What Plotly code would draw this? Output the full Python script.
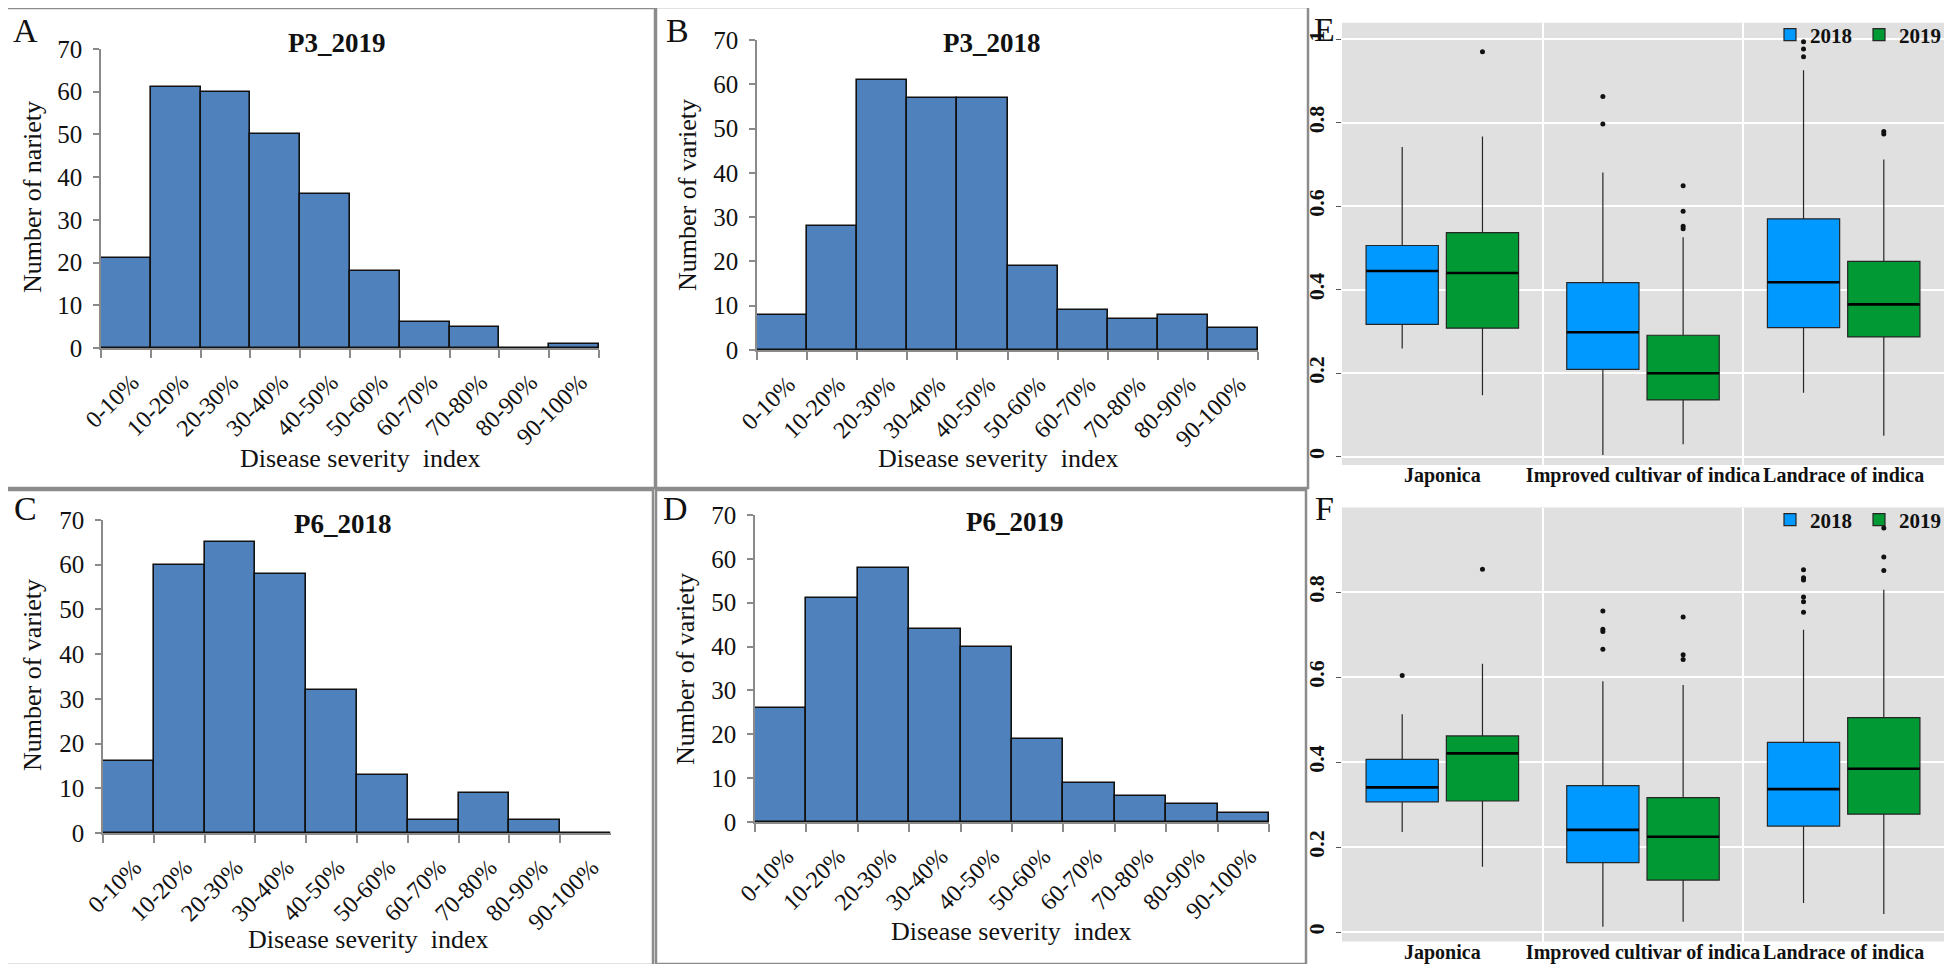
import plotly.graph_objects as go

# page is 1952x972; the browser body keeps an 8px margin, so the figure is
# sized to fit inside it and all reference-pixel positions are shifted by 8px.
PAGE_W, PAGE_H = 1952, 972
OFF = 8
W, H = PAGE_W - 2 * OFF, PAGE_H - 2 * OFF
SERIF = "Liberation Serif, Times New Roman, serif"

# ---------------- data ----------------
severity_bins = ["0-10%", "10-20%", "20-30%", "30-40%", "40-50%",
                 "50-60%", "60-70%", "70-80%", "80-90%", "90-100%"]
p3_2019_counts = [21, 61, 60, 50, 36, 18, 6, 5, 0, 1]
p3_2018_counts = [8, 28, 61, 57, 57, 19, 9, 7, 8, 5]
p6_2018_counts = [16, 60, 65, 58, 32, 13, 3, 9, 3, 0]
p6_2019_counts = [26, 51, 58, 44, 40, 19, 9, 6, 4, 2]

groups = ["Japonica", "Improved cultivar of indica", "Landrace of indica"]
years = ["2018", "2019"]

# panel E box statistics (per group)
e2018_q1 = [0.317, 0.209, 0.309]
e2018_med = [0.445, 0.298, 0.418]
e2018_q3 = [0.506, 0.417, 0.570]
e2018_lo = [0.259, 0.004, 0.153]
e2018_hi = [0.742, 0.681, 0.926]
e2019_q1 = [0.308, 0.136, 0.287]
e2019_med = [0.440, 0.200, 0.365]
e2019_q3 = [0.537, 0.291, 0.468]
e2019_lo = [0.147, 0.030, 0.050]
e2019_hi = [0.767, 0.526, 0.712]
e2018_out_group = [1, 1, 2, 2, 2]
e2018_out_val = [0.863, 0.797, 0.994, 0.977, 0.958]
e2019_out_group = [0, 1, 1, 1, 1, 2, 2]
e2019_out_val = [0.970, 0.649, 0.588, 0.552, 0.546, 0.779, 0.773]

# panel F box statistics (per group)
f2018_q1 = [0.307, 0.164, 0.250]
f2018_med = [0.341, 0.241, 0.337]
f2018_q3 = [0.407, 0.345, 0.447]
f2018_lo = [0.236, 0.013, 0.069]
f2018_hi = [0.513, 0.591, 0.712]
f2019_q1 = [0.309, 0.123, 0.278]
f2019_med = [0.421, 0.225, 0.385]
f2019_q3 = [0.462, 0.317, 0.505]
f2019_lo = [0.154, 0.025, 0.043]
f2019_hi = [0.632, 0.582, 0.806]
f2018_out_group = [0, 1, 1, 1, 1, 2, 2, 2, 2, 2, 2]
f2018_out_val = [0.604, 0.756, 0.713, 0.708, 0.666, 0.853, 0.834, 0.829, 0.789, 0.778, 0.753]
f2019_out_group = [0, 1, 1, 1, 2, 2, 2]
f2019_out_val = [0.854, 0.742, 0.653, 0.642, 0.951, 0.883, 0.851]

hist_titles = ["P3_2019", "P3_2018", "P6_2018", "P6_2019"]
hist_ytitles = ["Number of nariety", "Number of variety", "Number of variety", "Number of variety"]
panel_letters = ["A", "B", "C", "D", "E", "F"]


# ---------------- helpers (reference page pixels -> paper fractions) ----------------
def px(x):
    return (x - OFF) / W


def py(y):
    return 1 - (y - OFF) / H


def clamp(v):
    return min(1.0, max(0.0, v))


def text_ann(text, x, y, size, angle=0, bold=False):
    return dict(text=f"<b>{text}</b>" if bold else text, x=px(x), y=py(y),
                xref="paper", yref="paper", xanchor="center", yanchor="middle",
                textangle=angle, showarrow=False,
                font=dict(family=SERIF, size=size, color="#111"))


fig = go.Figure()

# histogram panel geometry in reference pixels: x-left, x-right, y(value 0), y(value 70)
hist_geom = [(101, 599, 348, 49), (757, 1258, 350, 40),
             (103, 611, 833, 520), (755, 1269, 822, 515)]
hist_title_pos = [(337, 43), (992, 43), (343, 524), (1015, 522)]
hist_xtitle_pos = [(360, 458), (998, 458), (368, 939), (1011, 931)]
hist_ytitle_pos = [(32, 197), (687, 195), (32, 675), (685, 669)]
letter_pos = [(25, 31), (677, 31), (25, 509), (675, 509), (1324, 30), (1324, 509)]
frames = [(1, 8, 655, 488), (656, 7, 1308, 488), (1, 490, 653, 965), (656, 490, 1306, 964)]

hist_counts = [p3_2019_counts, p3_2018_counts, p6_2018_counts, p6_2019_counts]
BAR_BLUE = "#4F81BD"
AX_GRAY = "#8a8a8a"

annotations = []
layout_axes = {}
shapes = []

for i, counts in enumerate(hist_counts):
    k = i + 1
    xl, xr, y0, y70 = hist_geom[i]
    fig.add_trace(go.Bar(
        x=severity_bins, y=counts, width=1.0,
        marker=dict(color=BAR_BLUE, line=dict(color="#111111", width=1.6)),
        xaxis=f"x{k}", yaxis=f"y{k}", showlegend=False,
    ))
    layout_axes[f"xaxis{k}"] = dict(
        domain=[clamp(px(xl)), clamp(px(xr))], anchor=f"y{k}", type="category", automargin=False,
        range=[-0.5, 9.5], tickangle=-45, ticks="outside", tickson="boundaries",
        ticklen=8, tickcolor=AX_GRAY, tickwidth=1.5, showline=True, linecolor=AX_GRAY,
        linewidth=1.5, showgrid=False, tickfont=dict(family=SERIF, size=24, color="#111"),
        ticklabelstandoff=9, ticklabelshift=6,
    )
    layout_axes[f"yaxis{k}"] = dict(
        domain=[clamp(py(y0)), clamp(py(y70))], anchor=f"x{k}", range=[0, 70], dtick=10,
        automargin=False, ticks="outside", ticklen=6, tickcolor=AX_GRAY, tickwidth=1.5,
        showline=True, linecolor=AX_GRAY, linewidth=1.5, showgrid=False,
        zeroline=False, tickfont=dict(family=SERIF, size=25, color="#111"),
        ticklabelstandoff=6,
    )
    annotations.append(text_ann(hist_titles[i], *hist_title_pos[i], size=27, bold=True))
    annotations.append(text_ann("Disease severity  index", *hist_xtitle_pos[i], size=26))
    annotations.append(text_ann(hist_ytitles[i], *hist_ytitle_pos[i], size=26, angle=-90))

for j, (lx, ly) in enumerate(letter_pos):
    annotations.append(text_ann(panel_letters[j], lx, ly, size=34))

# ---------------- box panels ----------------
BLUE = "#0099FF"
GREEN = "#009933"
OUTLINE = "#262626"
PANEL_BG = "#E0E0E0"
DODGE = 0.2
HALF = 0.18

box_panels = [
    dict(k=5, legend="legend",
         stats=[(e2018_q1, e2018_med, e2018_q3, e2018_lo, e2018_hi, e2018_out_group, e2018_out_val),
                (e2019_q1, e2019_med, e2019_q3, e2019_lo, e2019_hi, e2019_out_group, e2019_out_val)],
         ydom=(22.7, 465.0), yrange=[-0.0199, 1.0398],
         tickvals=[0, 0.2, 0.4, 0.6, 0.8, 1.0], ticktext=["0", "0.2", "0.4", "0.6", "0.8", "1"]),
    dict(k=6, legend="legend2",
         stats=[(f2018_q1, f2018_med, f2018_q3, f2018_lo, f2018_hi, f2018_out_group, f2018_out_val),
                (f2019_q1, f2019_med, f2019_q3, f2019_lo, f2019_hi, f2019_out_group, f2019_out_val)],
         ydom=(507.5, 941.5), yrange=[-0.0216, 0.9995],
         tickvals=[0, 0.2, 0.4, 0.6, 0.8], ticktext=["0", "0.2", "0.4", "0.6", "0.8"]),
]

for panel in box_panels:
    k = panel["k"]
    shapes.append(dict(type="rect", xref=f"x{k} domain", yref=f"y{k} domain",
                       x0=0, x1=1, y0=0, y1=1, layer="below",
                       fillcolor=PANEL_BG, line=dict(width=0)))
    for yi, (q1, med, q3, lo, hi, og, ov) in enumerate(panel["stats"]):
        off = -DODGE if yi == 0 else DODGE
        color = BLUE if yi == 0 else GREEN
        pos = [g + off for g in range(len(groups))]
        fig.add_trace(go.Box(
            x=pos, q1=q1, median=med, q3=q3, lowerfence=lo, upperfence=hi,
            width=2 * HALF, whiskerwidth=0, boxpoints=False,
            fillcolor=color, line=dict(color=OUTLINE, width=1.2),
            name=years[yi], legend=panel["legend"], showlegend=True,
            xaxis=f"x{k}", yaxis=f"y{k}",
        ))
        # thicker median lines
        mx, my = [], []
        for p, m in zip(pos, med):
            mx += [p - HALF, p + HALF, None]
            my += [m, m, None]
        fig.add_trace(go.Scatter(x=mx, y=my, mode="lines",
                                 line=dict(color="#000000", width=2.6),
                                 showlegend=False, hoverinfo="skip",
                                 xaxis=f"x{k}", yaxis=f"y{k}"))
        # outliers
        fig.add_trace(go.Scatter(x=[g + off for g in og], y=ov, mode="markers",
                                 marker=dict(color="#111111", size=5),
                                 showlegend=False, xaxis=f"x{k}", yaxis=f"y{k}"))

    yt, yb = panel["ydom"]
    layout_axes[f"xaxis{k}"] = dict(
        domain=[clamp(px(1342)), clamp(px(1944))], anchor=f"y{k}", range=[-0.5, 2.5],
        automargin=False,
        tickvals=[0, 1, 2], ticktext=groups, tickangle=0, showgrid=False, zeroline=False,
        ticks="", showline=False, ticklabelstandoff=-4,
        tickfont=dict(family=SERIF, size=20, color="#111", weight="bold"),
        minor=dict(tickvals=[0.5, 1.5], showgrid=True, gridcolor="white", gridwidth=2, ticks=""),
    )
    layout_axes[f"yaxis{k}"] = dict(
        domain=[clamp(py(yb)), clamp(py(yt))], anchor=f"x{k}", range=panel["yrange"],
        automargin=False,
        tickvals=panel["tickvals"], ticktext=panel["ticktext"], tickangle=-90,
        ticks="outside", ticklen=5, tickcolor="#555", tickwidth=1,
        showgrid=True, gridcolor="white", gridwidth=2, zeroline=False, showline=False,
        tickfont=dict(family=SERIF, size=22, color="#111", weight="bold"),
        ticklabelstandoff=3,
    )

legend_common = dict(orientation="h", xanchor="right", yanchor="middle",
                     bgcolor="rgba(0,0,0,0)", itemwidth=30, tracegroupgap=0,
                     entrywidth=44,
                     font=dict(family=SERIF, size=21, color="#111", weight="bold"),
                     itemclick=False, itemdoubleclick=False)

for (x0, y0, x1, y1) in frames:
    shapes.append(dict(type="rect", xref="paper", yref="paper",
                       x0=px(x0), x1=px(x1), y0=py(y1), y1=py(y0),
                       line=dict(color="#8c8c8c", width=2.5), fillcolor="rgba(0,0,0,0)"))

fig.update_layout(
    width=W, height=H, margin=dict(l=0, r=0, t=0, b=0, autoexpand=False),
    paper_bgcolor="white", plot_bgcolor="white",
    bargap=0, showlegend=True,
    legend=dict(x=px(1948), y=py(35), **legend_common),
    legend2=dict(x=px(1948), y=py(520), **legend_common),
    annotations=annotations, shapes=shapes,
    **layout_axes,
)

fig.write_html("out.html")
